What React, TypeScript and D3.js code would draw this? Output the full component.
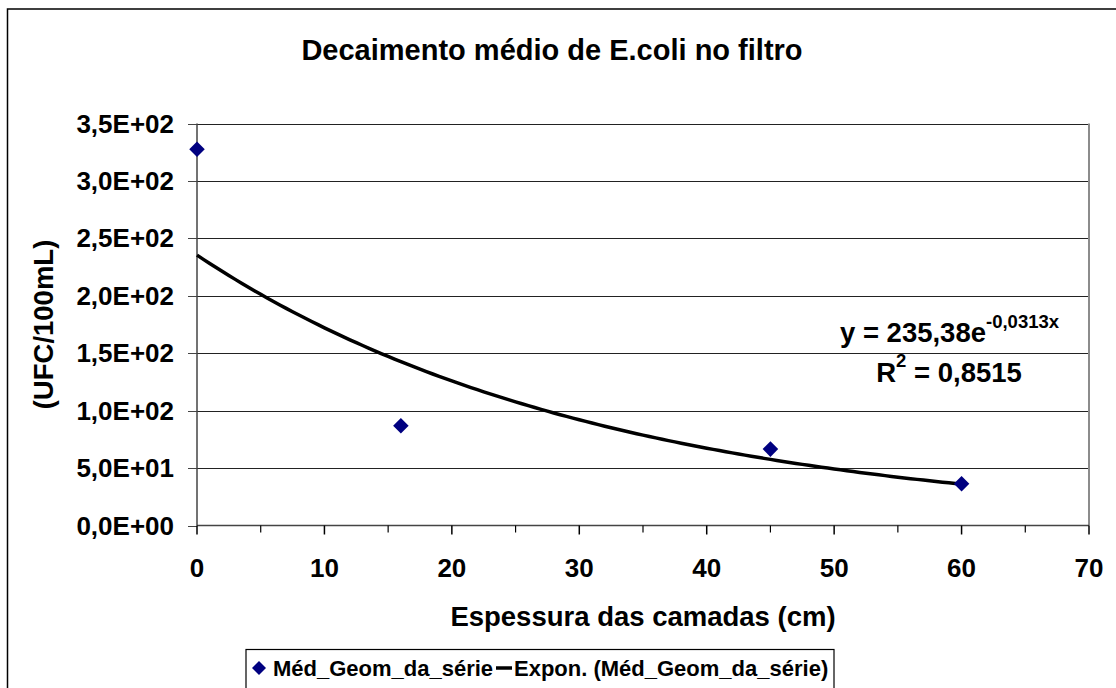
import React from 'react';
import * as d3 from 'd3';

// data
const depths = [0, 16, 45, 60];
const geoMeans = [327.5, 86.8, 66.5, 36.3];
const yTicks = [0, 50, 100, 150, 200, 250, 300, 350];
const yTickLabels = ['0,0E+00', '5,0E+01', '1,0E+02', '1,5E+02', '2,0E+02', '2,5E+02', '3,0E+02', '3,5E+02'];
const xTicks = [0, 10, 20, 30, 40, 50, 60, 70];
const xMinorTicks = [5, 15, 25, 35, 45, 55, 65];
// exponential trendline y = a * e^(b x)
const trendA = 235.38;
const trendB = -0.0313;
const trendRange = [0, 60];

const W = 1116;
const H = 688;
const font = '"Liberation Sans", Arial, sans-serif';

const App: React.FC = () => {
  const x = d3.scaleLinear().domain([0, 70]).range([197, 1089]);
  const y = d3.scaleLinear().domain([0, 350]).range([525.5, 123.5]);

  const trendPts = d3.range(trendRange[0], trendRange[1] + 0.01, 0.5).map(v => [v, trendA * Math.exp(trendB * v)] as [number, number]);
  const line = d3.line<[number, number]>().x(d => x(d[0])).y(d => y(d[1]));

  const diamond = d3.symbol().type(d3.symbolSquare).size(121)();

  return (
    <svg width={W} height={H} style={{ position: 'absolute', left: 0, top: 0 }} fontFamily={font} fontWeight="bold">
      <rect x={0} y={0} width={W} height={H} fill="#fff" />
      {/* outer chart border */}
      <rect x={7.5} y={9} width={W + 20} height={H + 20} fill="none" stroke="#000" strokeWidth={1.5} />

      <text x={552} y={60} textAnchor="middle" fontSize={29}>Decaimento médio de E.coli no filtro</text>

      {/* gridlines */}
      {yTicks.slice(1).map(t => (
        <line key={t} x1={x(0)} x2={x(70)} y1={Math.round(y(t)) + 0.5} y2={Math.round(y(t)) + 0.5} stroke="#222" strokeWidth={1} />
      ))}
      {/* plot border right */}
      <line x1={x(70)} x2={x(70)} y1={y(350)} y2={y(0)} stroke="#8c8c8c" strokeWidth={2} />

      {/* y axis */}
      <line x1={x(0)} x2={x(0)} y1={y(350)} y2={y(0)} stroke="#444" strokeWidth={1.5} />
      {yTicks.map((t, i) => (
        <g key={t}>
          <line x1={x(0) - 9} x2={x(0)} y1={Math.round(y(t)) + 0.5} y2={Math.round(y(t)) + 0.5} stroke="#444" strokeWidth={1} />
          <text x={174} y={y(t) + 9} textAnchor="end" fontSize={26}>{yTickLabels[i]}</text>
        </g>
      ))}

      {/* x axis */}
      <line x1={x(0)} x2={x(70)} y1={y(0)} y2={y(0)} stroke="#444" strokeWidth={1.5} />
      {xTicks.map(t => (
        <g key={t}>
          <line x1={x(t)} x2={x(t)} y1={y(0)} y2={y(0) + 9} stroke="#000" strokeWidth={1.5} />
          <text x={x(t)} y={577} textAnchor="middle" fontSize={26}>{t}</text>
        </g>
      ))}
      {xMinorTicks.map(t => (
        <line key={t} x1={x(t)} x2={x(t)} y1={y(0)} y2={y(0) + 7} stroke="#000" strokeWidth={1.2} />
      ))}

      <text x={643} y={626} textAnchor="middle" fontSize={27.5}>Espessura das camadas (cm)</text>
      <text transform={`translate(53,${(y(0) + y(350)) / 2}) rotate(-90)`} textAnchor="middle" fontSize={27.5}>(UFC/100mL)</text>

      {/* trendline */}
      <path d={line(trendPts) || ''} fill="none" stroke="#000" strokeWidth={3.5} />

      {/* points */}
      {depths.map((d, i) => (
        <path key={d} d={diamond || ''} transform={`translate(${x(d)},${y(geoMeans[i])}) rotate(45)`} fill="#000080" />
      ))}

      {/* equation label */}
      <text x={949.5} y={342} textAnchor="middle" fontSize={27.5}>
        y = 235,38e<tspan dy={-14} fontSize={18.5}>-0,0313x</tspan>
      </text>
      <text x={949} y={382} textAnchor="middle" fontSize={27.5}>
        R<tspan dy={-15} fontSize={18.5}>2</tspan><tspan dy={15}> = 0,8515</tspan>
      </text>

      {/* legend */}
      <rect x={246} y={649.5} width={588} height={60} fill="#fff" stroke="#000" strokeWidth={1.2} />
      <path d={d3.symbol().type(d3.symbolSquare).size(98)() || ''} transform="translate(259,668) rotate(45)" fill="#000080" />
      <text x={273} y={676} fontSize={22}>Méd_Geom_da_série</text>
      <line x1={496} x2={512} y1={668} y2={668} stroke="#000" strokeWidth={3.5} />
      <text x={514} y={676} fontSize={22}>Expon. (Méd_Geom_da_série)</text>
    </svg>
  );
};

export default App;
